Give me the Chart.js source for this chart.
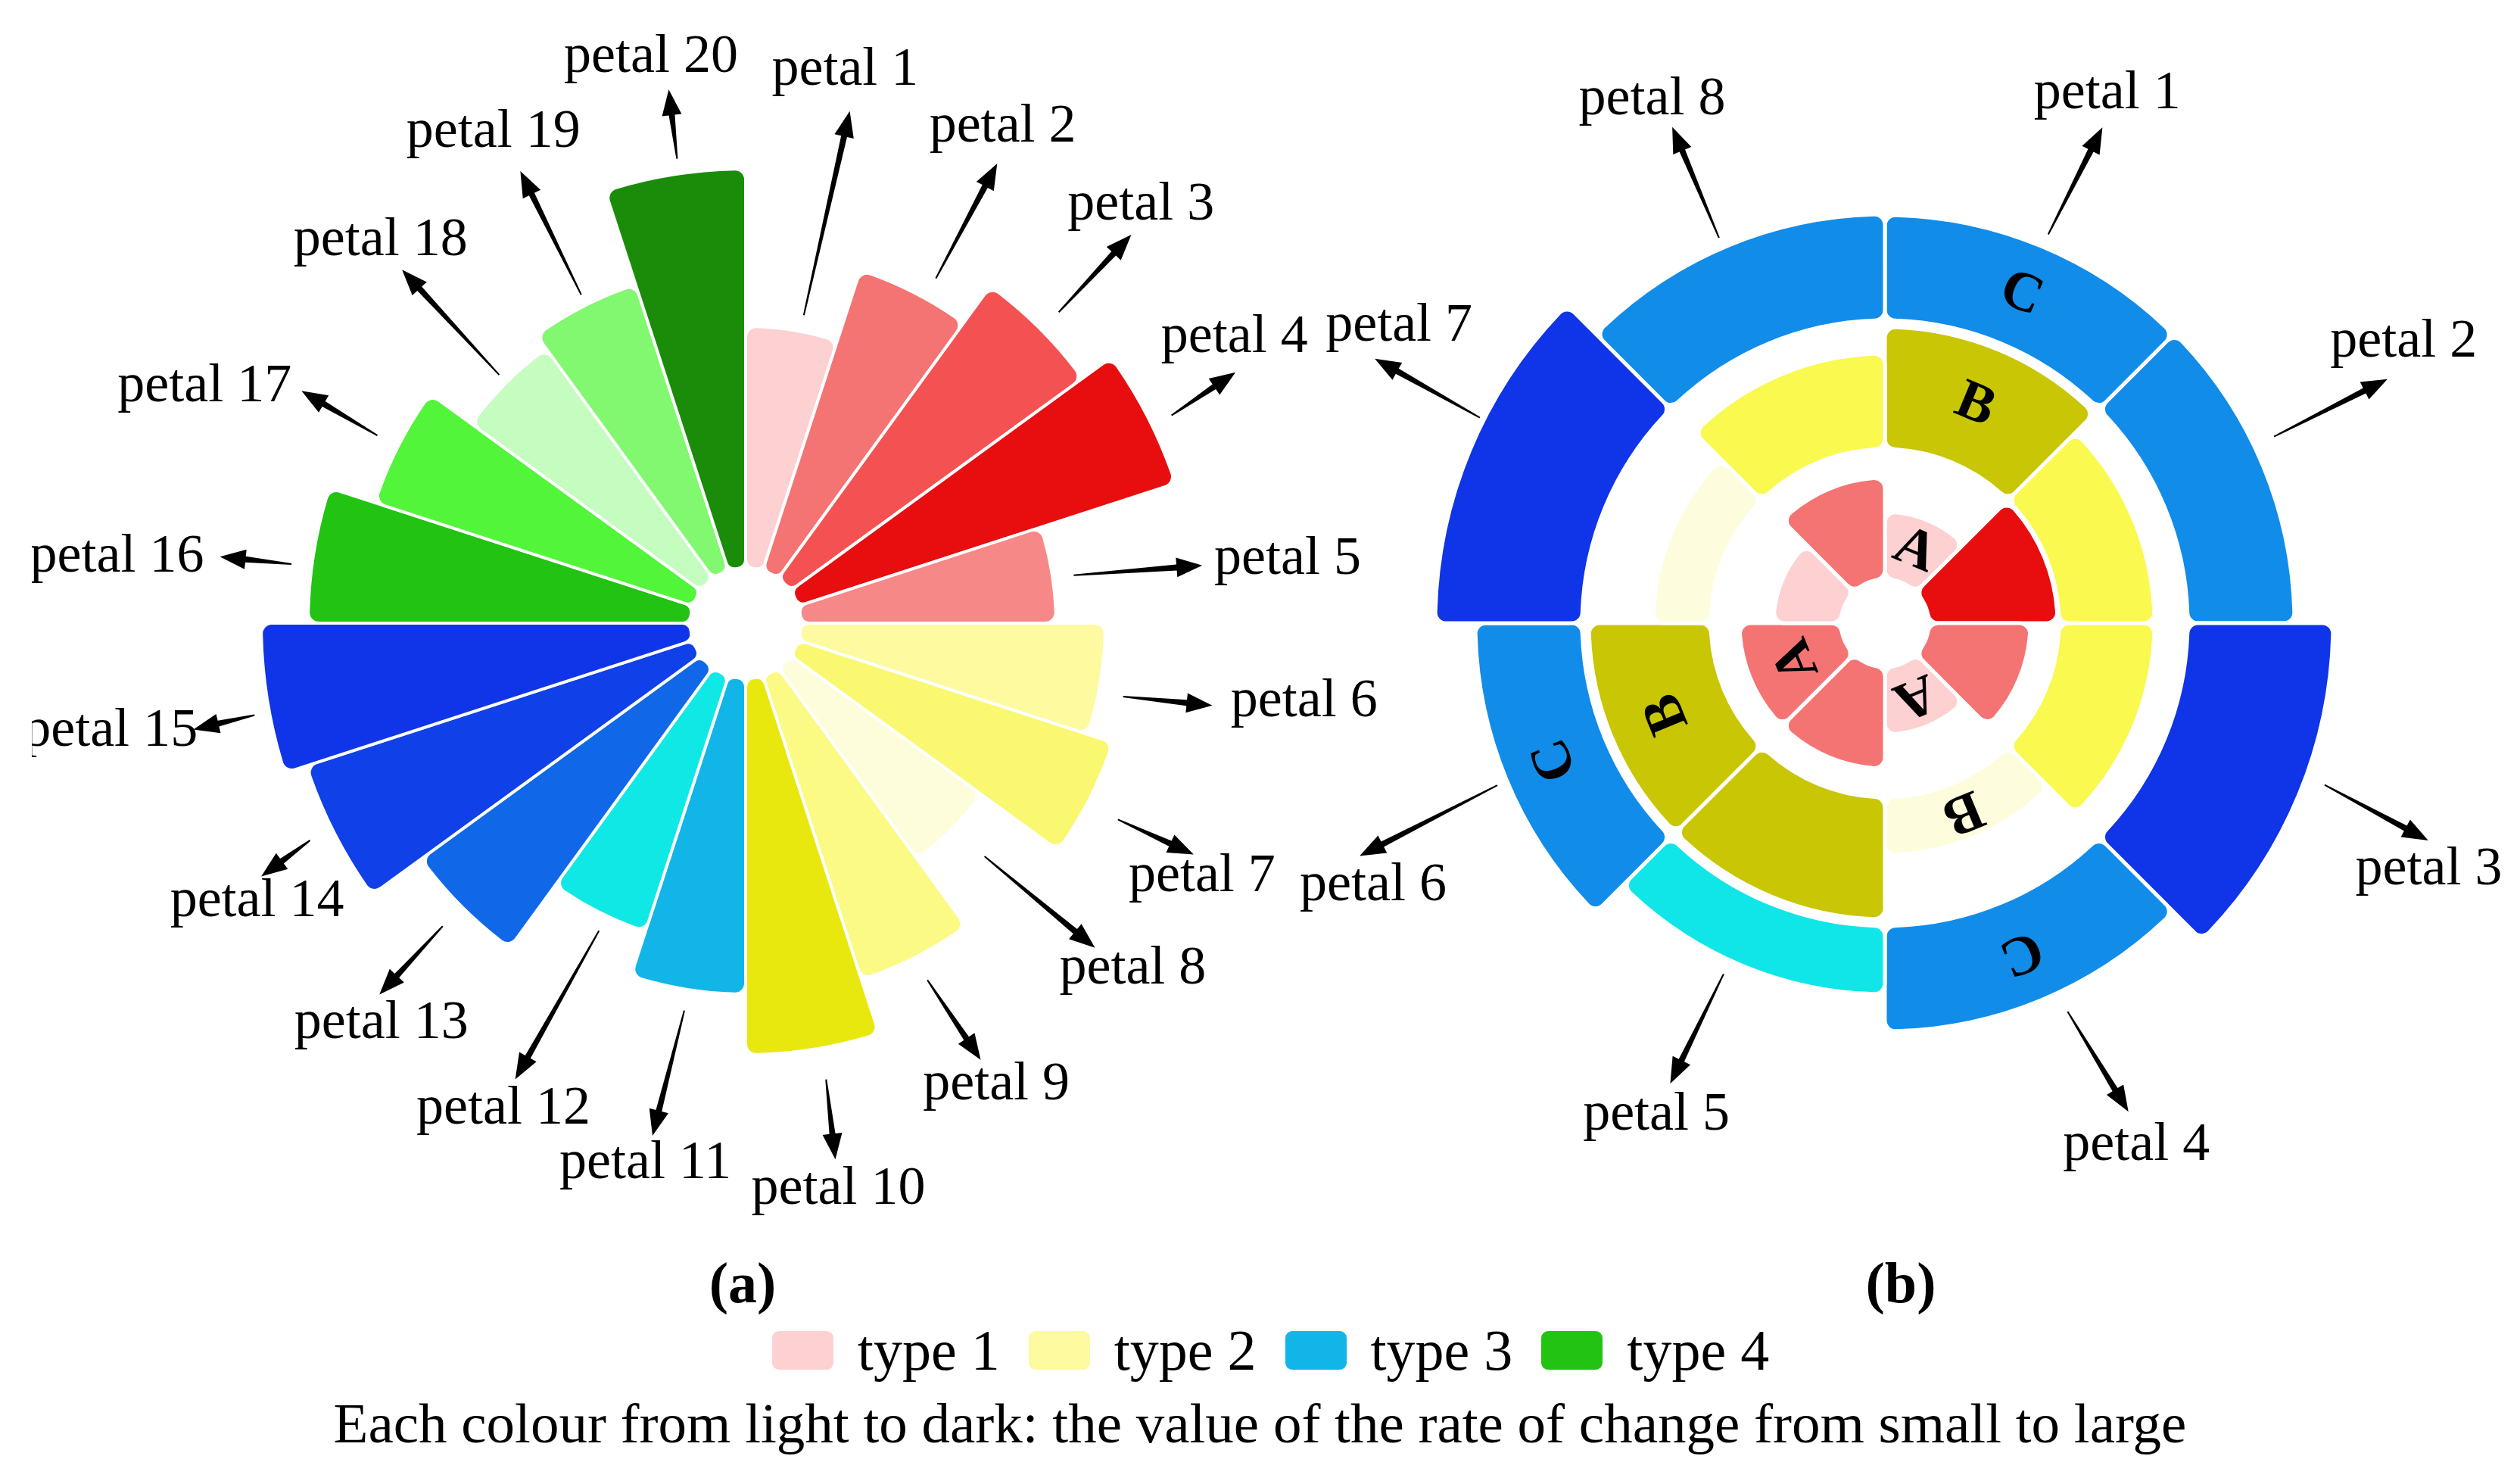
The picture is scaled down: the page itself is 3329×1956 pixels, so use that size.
<!DOCTYPE html>
<html>
<head>
<meta charset="utf-8">
<script src="https://cdn.jsdelivr.net/npm/chart.js@4.4.1/dist/chart.umd.min.js"></script>
<style>
	html, body { margin: 0; padding: 0; background: #fff; }
	body {
		width: 3329px; height: 1956px; position: relative; overflow: hidden;
		font-family: "Liberation Serif", "DejaVu Serif", serif; color: #000;
	}
	canvas { position: absolute; top: 0; }
	#chartA { left: 0; }
	#chartB { left: 1700px; }
	.panel-title {
		position: absolute; top: 1694px; transform: translate(-50%, -50%);
		font-weight: bold; font-size: 76px; line-height: 1;
	}
	#legend {
		position: absolute; left: 14px; width: 3329px; top: 1783px; transform: translateY(-50%);
		display: flex; justify-content: center; align-items: center;
		font-size: 76px; line-height: 1;
	}
	.item { display: flex; align-items: center; margin: 0 19px; }
	.swatch { width: 81px; height: 51px; border-radius: 9px; margin-right: 32px; }
	#caption {
		position: absolute; left: 0; width: 3329px; top: 1879px; transform: translateY(-50%);
		text-align: center; font-size: 75px; line-height: 1;
	}
</style>
</head>
<body>
<canvas id="chartA" width="1900" height="1650"></canvas>
<canvas id="chartB" width="1629" height="1650"></canvas>
<div class="panel-title" style="left:981px">(a)</div>
<div class="panel-title" style="left:2511px">(b)</div>
<div id="legend"></div>
<div id="caption">Each colour from light to dark: the value of the rate of change from small to large</div>

<script>
// ---- panel (a): 20 petals ----
const petalsA = ['petal 1', 'petal 2', 'petal 3', 'petal 4', 'petal 5', 'petal 6', 'petal 7',
	'petal 8', 'petal 9', 'petal 10', 'petal 11', 'petal 12', 'petal 13', 'petal 14',
	'petal 15', 'petal 16', 'petal 17', 'petal 18', 'petal 19', 'petal 20'];
const valuesA = [31.9, 41.7, 47.7, 52.4, 33.7, 40.2, 43.7, 31.2, 42.2, 49.7,
	41.7, 35.5, 45.7, 53.7, 56.7, 50.5, 44.2, 37.5, 39.7, 52.7];
const coloursA = ['#fdd0d2', '#f47474', '#f45252', '#e80d0f', '#f78888',
	'#fdfaa0', '#f9f870', '#fdfddc', '#fafa84', '#e8e80f',
	'#12b5e8', '#10e8e5', '#1068e8', '#1040e8', '#1035e8',
	'#22c312', '#52f53a', '#c5fcc0', '#82f870', '#1a8c0a'];

// ---- panel (b): 8 petals in three rings ----
const petalsB = ['petal 1', 'petal 2', 'petal 3', 'petal 4', 'petal 5', 'petal 6', 'petal 7', 'petal 8'];
const ringA = [14.7, 22.8, 19.2, 14.7, 19.2, 19.2, 14.7, 19.2];
const ringB = [39.1, 35.6, 35.6, 30.6, 39.1, 39.1, 30.6, 35.6];
const ringC = [53.9, 54.1, 59.2, 53.9, 49.0, 54.1, 59.4, 54.0];
const ringBase = [5.8, 23.0, 40.0];
const ringAColours = ['#fdd0d2', '#e80d0f', '#f47474', '#fdd0d2', '#f47474', '#f47474', '#fdd0d2', '#f47474'];
const ringBColours = ['#c8c605', '#f9f950', '#f9f950', '#fdfcdc', '#c8c605', '#c8c605', '#fdfcdc', '#f9f950'];
const ringCColours = ['#118ce8', '#118ce8', '#1034e8', '#118ce8', '#10e6e8', '#118ce8', '#1034e8', '#118ce8'];
const lettersA = ['A', '', '', 'A', '', 'A', '', ''];
const lettersB = ['B', '', '', 'B', '', 'B', '', ''];
const lettersC = ['C', '', '', 'C', '', 'C', '', ''];

const legendTypes = ['type 1', 'type 2', 'type 3', 'type 4'];
const legendColours = ['#fdd0d2', '#fdfaa0', '#12b5e8', '#22c312'];

// annotation layout: arrow [tail deg, tail r, head deg, head r], tag [deg, r] (px, clockwise from top)
const arrowsA = [[10.7, 414, 11.5, 690], [28.9, 520, 28.7, 692], [45.2, 583, 44.8, 723], [64, 626, 62.9, 727],
	[81.7, 438, 82.8, 608], [101, 508, 100, 626], [117.8, 556, 117.3, 666], [134.3, 441, 132.9, 630],
	[153, 529, 151.7, 655], [170, 612, 170.5, 718], [189, 518, 190.3, 688], [205.5, 450, 206.8, 675],
	[225, 566, 224.6, 689], [243.5, 643, 242.4, 722], [259.4, 660, 259.1, 743], [277.4, 605, 277.2, 700],
	[297, 546, 297.6, 662], [315.2, 462, 315.8, 651], [333.4, 485, 333.5, 667], [351.6, 620, 351.8, 712]];
const tagsA = [[10.2, 742], [27.4, 738], [43.4, 760], [59.7, 748], [83.3, 721], [98, 745], [119.1, 690],
	[131.8, 686], [151.5, 694], [170.7, 758], [190.5, 726], [206.5, 717], [222.3, 715], [240.3, 743],
	[260.3, 851], [276, 835], [293.6, 780], [316.3, 698], [332.8, 729], [350.5, 757]];
const arrowsB = [[22.8, 557, 23.7, 715], [64.4, 570, 64.1, 738], [110.2, 619, 111.8, 773], [154.8, 567, 153.5, 721],
	[204.7, 510, 205, 671], [247.3, 555, 246.1, 759], [296.9, 600, 297.4, 759], [336.7, 554, 336.8, 713]];
const tagsB = [[22.8, 758], [61.6, 779], [114.4, 789], [154.3, 766], [204.9, 717], [242.8, 760], [301.4, 752], [336, 756]];

const FONT = '"Liberation Serif", "DejaVu Serif", serif';

function drawArrow(ctx, x1, y1, x2, y2) {
	const len = Math.hypot(x2 - x1, y2 - y1);
	const ux = (x2 - x1) / len, uy = (y2 - y1) / len;
	const nx = -uy, ny = ux;
	const L = 34, H = 13;
	const bx = x2 - ux * L, by = y2 - uy * L;
	ctx.beginPath();
	ctx.moveTo(x1 + nx, y1 + ny);
	ctx.lineTo(bx + nx * 4, by + ny * 4);
	ctx.lineTo(bx + nx * H, by + ny * H);
	ctx.lineTo(x2, y2);
	ctx.lineTo(bx - nx * H, by - ny * H);
	ctx.lineTo(bx - nx * 4, by - ny * 4);
	ctx.lineTo(x1 - nx, y1 - ny);
	ctx.closePath();
	ctx.fill();
}

// rings start at the value given by dataset.ringBase
const ringPlugin = {
	id: 'rings',
	afterDatasetUpdate(chart, args) {
		const scale = chart.scales.r;
		const ds = chart.data.datasets[args.index];
		const inner = scale.getDistanceFromCenterForValue(ds.ringBase || 0);
		args.meta.data.forEach(arc => { arc.innerRadius = inner; });
	}
};

const notesPlugin = {
	id: 'notes',
	afterDatasetsDraw(chart, args, opts) {
		const {ctx} = chart;
		const scale = chart.scales.r;
		const k = scale.drawingArea / opts.baseRadius;
		const pt = (deg, r) => {
			const a = deg * Math.PI / 180;
			return [scale.xCenter + Math.sin(a) * r * k, scale.yCenter - Math.cos(a) * r * k];
		};
		ctx.save();
		if (opts.clipLeft) {
			ctx.beginPath();
			ctx.rect(opts.clipLeft, 0, chart.width, chart.height);
			ctx.clip();
		}
		ctx.fillStyle = '#000';
		opts.arrows.forEach(a => {
			const [x1, y1] = pt(a[0], a[1]);
			const [x2, y2] = pt(a[2], a[3]);
			drawArrow(ctx, x1, y1, x2, y2);
		});
		ctx.font = '72px ' + FONT;
		ctx.textAlign = 'center';
		ctx.textBaseline = 'middle';
		opts.tags.forEach((t, i) => {
			const [x, y] = pt(t[0], t[1]);
			ctx.fillText(chart.data.labels[i], x, y);
		});
		ctx.restore();

		// ring letters
		ctx.save();
		ctx.font = 'bold 74px ' + FONT;
		ctx.textAlign = 'center';
		ctx.textBaseline = 'middle';
		ctx.fillStyle = '#000';
		chart.data.datasets.forEach((ds, di) => {
			if (!ds.letters) return;
			chart.getDatasetMeta(di).data.forEach((arc, i) => {
				if (!ds.letters[i]) return;
				const p = arc.getCenterPoint();
				ctx.save();
				ctx.translate(p.x, p.y);
				ctx.rotate((arc.startAngle + arc.endAngle) / 2 + Math.PI / 2);
				ctx.fillText(ds.letters[i], 0, 0);
				ctx.restore();
			});
		});
		ctx.restore();
	}
};

const baseOptions = (min, max, padding, radius, arrows, tags, clipLeft) => ({
	responsive: false,
	animation: false,
	devicePixelRatio: 1,
	layout: {padding: padding},
	scales: {
		r: {display: false, min: min, max: max}
	},
	plugins: {
		legend: {display: false},
		tooltip: {enabled: false},
		notes: {baseRadius: radius, arrows: arrows, tags: tags, clipLeft: clipLeft}
	}
});

new Chart(document.getElementById('chartA'), {
	type: 'polarArea',
	data: {
		labels: petalsA,
		datasets: [{
			data: valuesA,
			backgroundColor: coloursA,
			borderColor: '#fff',
			borderWidth: 4,
			borderRadius: 14,
			ringBase: 0
		}]
	},
	options: baseOptions(-7.3, 66.7, {left: 245, right: 175, top: 83, bottom: 87}, 740, arrowsA, tagsA, 42),
	plugins: [ringPlugin, notesPlugin]
});

new Chart(document.getElementById('chartB'), {
	type: 'polarArea',
	data: {
		labels: petalsB,
		datasets: [
			{data: ringA, backgroundColor: ringAColours, borderColor: '#fff', borderWidth: 5, borderRadius: 14,
				ringBase: ringBase[0], letters: lettersA},
			{data: ringB, backgroundColor: ringBColours, borderColor: '#fff', borderWidth: 5, borderRadius: 14,
				ringBase: ringBase[1], letters: lettersB},
			{data: ringC, backgroundColor: ringCColours, borderColor: '#fff', borderWidth: 5, borderRadius: 14,
				ringBase: ringBase[2], letters: lettersC}
		]
	},
	options: baseOptions(0, 64, {left: 150, right: 199, top: 183, bottom: 187}, 640, arrowsB, tagsB, 0),
	plugins: [ringPlugin, notesPlugin]
});

// legend
const legend = document.getElementById('legend');
legendTypes.forEach((t, i) => {
	const item = document.createElement('div');
	item.className = 'item';
	const sw = document.createElement('div');
	sw.className = 'swatch';
	sw.style.background = legendColours[i];
	const tx = document.createElement('span');
	tx.textContent = t;
	item.appendChild(sw);
	item.appendChild(tx);
	legend.appendChild(item);
});
</script>
</body>
</html>
